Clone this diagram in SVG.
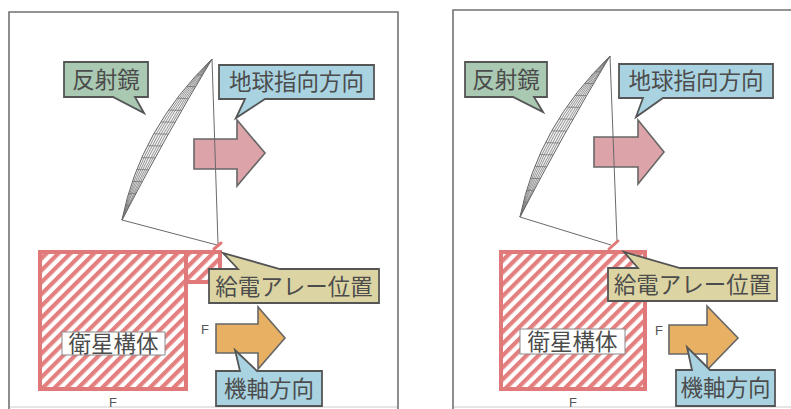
<svg xmlns="http://www.w3.org/2000/svg" width="791" height="409" viewBox="0 0 791 409">
  <style>
    .frame { fill: none; stroke: #727272; stroke-width: 1.6; }
    .frame-base { fill: none; stroke: #cccccc; stroke-width: 1; }
    .wire { fill: none; stroke: #6a6a6a; stroke-width: 1; }
    .mesh { fill: none; stroke: #6c6c6c; stroke-width: 0.7; }
    .dish { fill: #f2f2f2; stroke: #626262; stroke-width: 1; }
    .feed { stroke: #e07878; stroke-width: 3; stroke-linecap: round; }
    .body { fill: url(#hatch); stroke: #e07a7a; stroke-width: 4; }
    .label-box { fill: #ffffff; stroke: #8a8a8a; stroke-width: 1; }
    .call { stroke: #555555; stroke-width: 1.8; stroke-linejoin: miter; }
    .green { fill: #a9c9b2; }
    .blue { fill: #a9d3e1; }
    .khaki { fill: #dcd5a3; }
    .arrow { stroke: #676767; stroke-width: 1.6; stroke-linejoin: miter; }
    .pink { fill: #dca3a8; }
    .orange { fill: #e7b063; }
    .jp { font-family: "Noto Sans CJK JP", "Noto Sans", sans-serif; font-size: 22.5px; fill: #4c4c4c; text-anchor: middle; }
    .f { font-family: "Liberation Sans", Arial, sans-serif; font-size: 13px; fill: #555555; }
  </style>
  <defs>
    <pattern id="hatch" patternUnits="userSpaceOnUse" width="8.4" height="8.4" patternTransform="rotate(45)">
      <rect x="0" y="0" width="8.4" height="8.4" fill="#ffffff"/>
      <rect x="0" y="0" width="4.2" height="8.4" fill="#e47f7f"/>
    </pattern>
    <clipPath id="dish-clip">
      <path d="M212,59 Q140,129 122,220 Q165,137 212,59 Z"/>
    </clipPath>
    <!-- mesh reflector: outer and inner quadratic rims, long ribs and cross hoops -->
    <g id="reflector">
      <path class="dish" d="M212,59 Q140,129 122,220 Q165,137 212,59 Z"/>
      <path class="mesh" d="M212,59 Q144.2,130.3 122,220 M212,59 Q148.3,131.7 122,220 M212,59 Q152.5,133 122,220 M212,59 Q156.7,134.3 122,220 M212,59 Q160.8,135.7 122,220"/>
      <path class="mesh" clip-path="url(#dish-clip)" d="M110,73 L215,75 M110,85 L215,87 M110,97 L215,99 M110,109 L215,111 M110,121 L215,123 M110,133 L215,135 M110,145 L215,147 M110,157 L215,159 M110,169 L215,171 M110,181 L215,183 M110,193 L215,195 M110,205 L215,207"/>
    </g>
  </defs>

  <!-- left panel -->
  <g id="frame-left">
    <path class="frame" d="M9,412 V12 H398 V412"/>
    <path class="frame-base" d="M10,407 H397"/>
  </g>
  <g id="satellite-left">
    <rect class="body" x="186" y="252" width="34" height="30"/>
    <rect class="body" x="40" y="252" width="146" height="137"/>
    <rect class="label-box" x="62" y="332" width="103" height="23"/>
    <text class="jp" x="113.5" y="352">衛星構体</text>
  </g>
  <g id="pointing-arrow-left">
    <path class="arrow pink" d="M194,139 H237 V120 L265,153 L237,186 V169 H194 Z"/>
  </g>
  <g id="axis-arrow-left">
    <path class="arrow orange" d="M216,324 H258 V307 L285,338 L258,369 V353 H216 Z"/>
    <text class="f" x="201" y="334">F</text>
  </g>
  <g id="antenna-left">
    <use href="#reflector"/>
    <path class="wire" d="M212,59 L218,244 M122,220 L217,245"/>
    <line class="feed" x1="214" y1="249" x2="221" y2="243"/>
  </g>
  <g id="callout-reflector-left">
    <path class="call green" d="M64,62 H148 V97 H135 L144,113 L113,97 H64 Z"/>
    <text class="jp" x="106" y="88">反射鏡</text>
  </g>
  <g id="callout-earth-left">
    <path class="call blue" d="M219,65 H374 V99 H265 L236,118 L245,99 H219 Z"/>
    <text class="jp" x="296.5" y="90">地球指向方向</text>
  </g>
  <g id="callout-feed-left">
    <path class="call khaki" d="M209,269 H238 L223,253 L280,269 H379 V303 H209 Z"/>
    <text class="jp" x="294" y="295">給電アレー位置</text>
  </g>
  <g id="callout-axis-left">
    <path class="call blue" d="M216,371 H240 L235,350 L257,371 H322 V406 H216 Z"/>
    <text class="jp" x="269" y="397">機軸方向</text>
  </g>
  <text class="f" x="109" y="407" font-size="12">F</text>

  <!-- right panel -->
  <g id="frame-right">
    <path class="frame" d="M453,412 V10 H795"/>
    <path class="frame-base" d="M454,407 H791"/>
  </g>
  <g id="satellite-right">
    <rect class="body" x="501" y="252" width="144" height="137"/>
    <rect class="label-box" x="520" y="329" width="105" height="25"/>
    <text class="jp" x="572.5" y="350">衛星構体</text>
  </g>
  <g id="pointing-arrow-right">
    <path class="arrow pink" d="M594,137 H638 V120 L664,152 L638,184 V167 H594 Z"/>
  </g>
  <g id="axis-arrow-right">
    <path class="arrow orange" d="M669,325 H707 V306 L738,338 L707,370 V354 H669 Z"/>
    <text class="f" x="655" y="335">F</text>
  </g>
  <g id="antenna-right">
    <use href="#reflector" transform="translate(398,-3)"/>
    <path class="wire" d="M610,56 L617,241 M520,217 L611,245"/>
    <line class="feed" x1="609" y1="249" x2="618" y2="241"/>
  </g>
  <g id="callout-reflector-right">
    <path class="call green" d="M465,62 H547 V97 H534 L543,112 L513,97 H465 Z"/>
    <text class="jp" x="506" y="88">反射鏡</text>
  </g>
  <g id="callout-earth-right">
    <path class="call blue" d="M619,64 H773 V98 H663 L636,117 L643,98 H619 Z"/>
    <text class="jp" x="696" y="89">地球指向方向</text>
  </g>
  <g id="callout-feed-right">
    <path class="call khaki" d="M608,268 H638 L624,252 L680,268 H777 V301 H608 Z"/>
    <text class="jp" x="692.5" y="293">給電アレー位置</text>
  </g>
  <g id="callout-axis-right">
    <path class="call blue" d="M676,370 H692 L687,347 L710,370 H775 V406 H676 Z"/>
    <text class="jp" x="725.5" y="396">機軸方向</text>
  </g>
  <text class="f" x="569" y="407" font-size="12">F</text>
</svg>
